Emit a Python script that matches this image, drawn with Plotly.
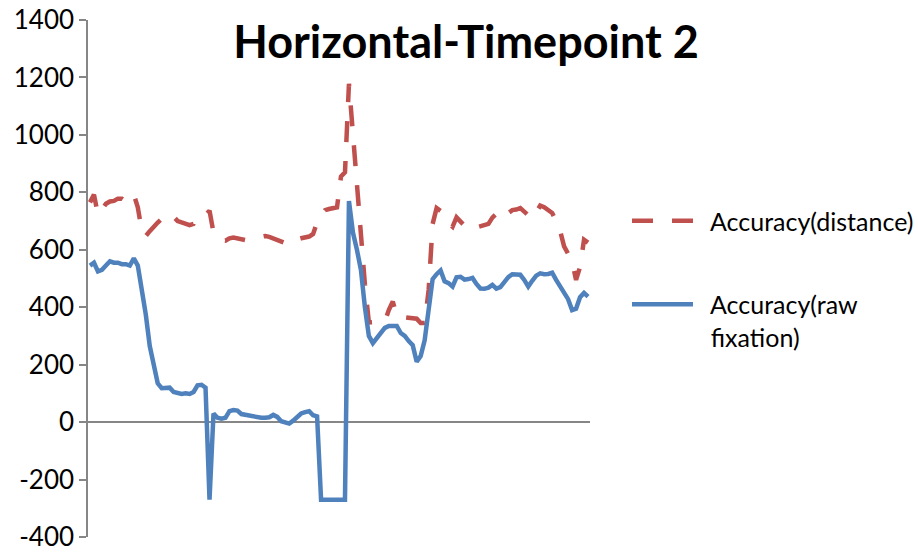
import plotly.graph_objects as go

# Category positions (unlabelled sample index)
n_points = 126
samples = list(range(n_points))

accuracy_distance = [
    765, 792, 722, 740, 760, 768, 770, 778, 778, 768,
    775, 792, 748, 665, 648, 665, 683, 695, 708, 718,
    727, 715, 700, 695, 690, 686, 690, 712, 708, 720,
    736, 660, 645, 634, 632, 640, 643, 640, 636, 634,
    638, 641, 644, 647, 648, 645, 640, 636, 632, 625,
    618, 627, 636, 640, 643, 646, 655, 695, 720, 738,
    742, 745, 748, 855, 870, 1178, 1000, 830, 680, 480,
    347, 347, 347, 348, 350, 390, 420, 370, 365, 365,
    364, 364, 360, 345, 345, 460, 690, 745, 735, 705,
    692, 680, 713, 700, 684, 690, 692, 678, 682, 686,
    690, 712, 725, 708, 715, 728, 738, 740, 745, 733,
    720, 708, 730, 754, 748, 740, 728, 700, 666, 612,
    585, 560, 495, 540, 635, 625,
]

accuracy_raw_fixation = [
    545, 555, 525, 530, 545, 560, 555, 555, 550, 550,
    545, 570, 545, 465, 375, 265, 205, 135, 118, 118,
    120, 105, 100, 98, 100, 98, 105, 128, 130, 120,
    -270, 30, 15, 12, 15, 38, 42, 40, 28, 25,
    22, 20, 17, 15, 15, 17, 25, 18, 3, -3,
    -5, 5, 20, 30, 35, 38, 24, 20, -270, -270,
    -270, -270, -270, -270, -270, 770, 660, 600, 530, 400,
    300, 275, 293, 310, 328, 335, 336, 335, 310, 300,
    282, 268, 210, 230, 285, 405, 498, 515, 528, 490,
    484, 472, 504, 506, 496, 498, 502, 481, 465, 464,
    468, 478, 465, 470, 490, 505, 515, 515, 513, 495,
    472, 492, 510, 518, 515, 516, 520, 495, 470, 448,
    428, 390, 395, 435, 450, 437,
]

y_ticks = [-400, -200, 0, 200, 400, 600, 800, 1000, 1200, 1400]
y_tick_labels = ["-400", "-200", "0", "200", "400", "600", "800", "1000", "1200", "1400"]

title_text = "Horizontal-Timepoint 2"
series_names = ["Accuracy(distance)", "Accuracy(raw<br>fixation)"]

FONT = "Lato"
AXIS_GRAY = "#868686"
PAD = "\u00a0\u00a0"


def legend_label(text):
    return "<br>".join(PAD + part for part in text.split("<br>"))


fig = go.Figure()
fig.add_trace(go.Scatter(
    x=samples, y=accuracy_distance, mode="lines", name=legend_label(series_names[0]),
    line=dict(color="#C0504D", width=4.5, dash="21px,19px"),
    legendgroup="a",
))
fig.add_trace(go.Scatter(
    x=samples, y=accuracy_raw_fixation, mode="lines", name=legend_label(series_names[1]),
    line=dict(color="#4F81BD", width=4.5),
    legendgroup="b",
))

fig.update_layout(
    width=918, height=552,
    margin=dict(l=88, r=328, t=20, b=15, autoexpand=False),
    paper_bgcolor="white", plot_bgcolor="white",
    font=dict(family=FONT, size=25, color="black"),
    title=dict(text="<b>" + title_text + "</b>", x=466 / 918, xref="container",
               xanchor="center", y=1 - 42 / 552, yref="container", yanchor="middle",
               font=dict(family=FONT, size=45, color="black")),
    showlegend=True,
    legend=dict(x=(627 - 88) / 502, y=1 - (198 - 20) / 517, xanchor="left", yanchor="top",
                xref="paper", yref="paper", itemwidth=61, valign="top",
                traceorder="grouped", tracegroupgap=48,
                font=dict(family=FONT, size=25, color="black"),
                bgcolor="rgba(0,0,0,0)"),
    xaxis=dict(range=[-0.5, n_points - 0.5], showticklabels=False, showgrid=False,
               zeroline=False, showline=False, ticks="", automargin=False),
    yaxis=dict(range=[-400, 1400], tickvals=y_ticks, ticktext=y_tick_labels, showgrid=False,
               zeroline=True, zerolinecolor=AXIS_GRAY, zerolinewidth=1.5,
               showline=True, linecolor=AXIS_GRAY, linewidth=1.5,
               ticks="outside", ticklen=7, tickcolor=AXIS_GRAY, tickwidth=1.5,
               automargin=False, ticklabeloverflow="allow",
               tickfont=dict(family=FONT, size=26, color="black")),
)

fig.write_html(
    "out.html",
    config={"displayModeBar": False},
    post_script="document.body.style.margin='0';document.body.style.overflow='hidden';",
)
